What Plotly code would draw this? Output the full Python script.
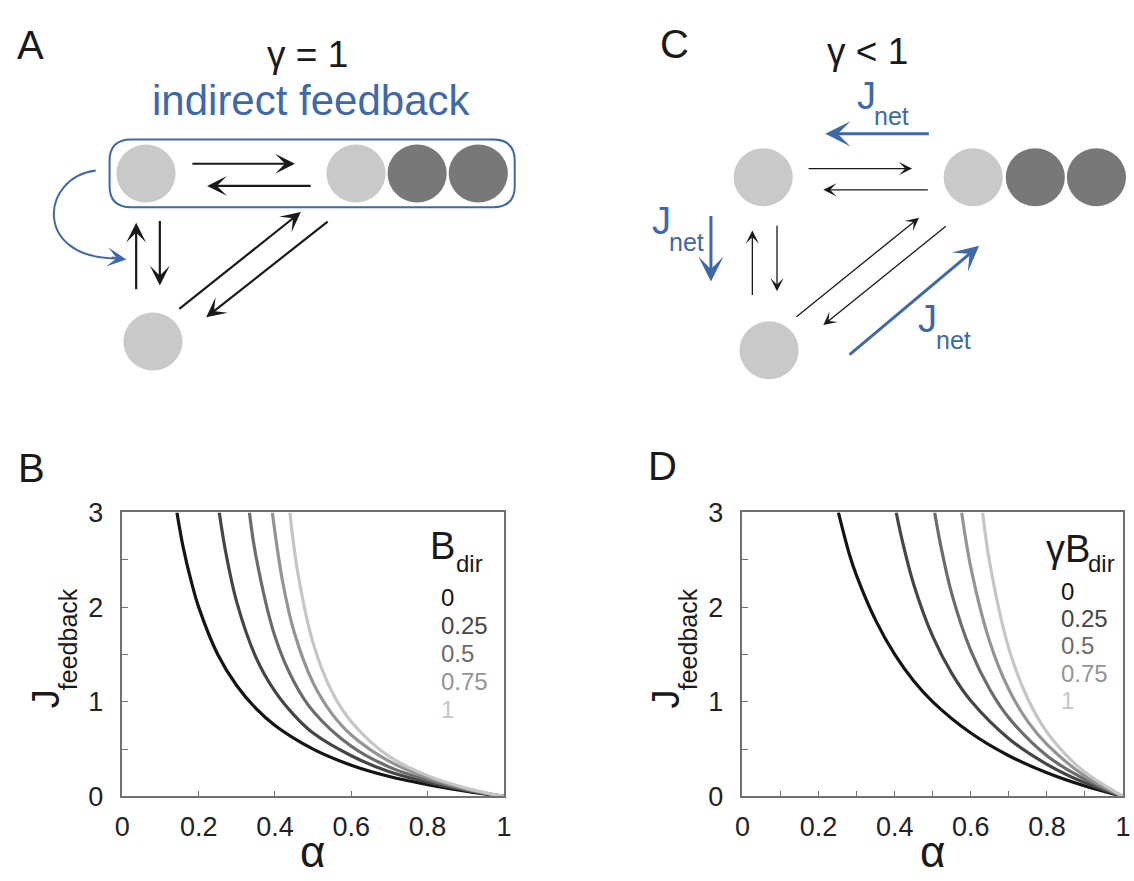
import plotly.graph_objects as go

W, H = 1134, 881

# ---------------- data: panel B (B_dir levels) ----------------
levels = ["0", "0.25", "0.5", "0.75", "1"]
line_colors = ["#141414", "#454545", "#6c6c6c", "#949494", "#c6c6c6"]

B_alpha_0 = [0.143, 0.16, 0.18, 0.20, 0.25, 0.30, 0.35, 0.40, 0.50, 0.60, 0.70, 0.80, 0.90, 1.00]
B_J_0 = [3.0, 2.62, 2.28, 2.0, 1.5, 1.17, 0.93, 0.75, 0.5, 0.33, 0.21, 0.125, 0.056, 0.0]
B_alpha_1 = [0.254, 0.27, 0.30, 0.35, 0.40, 0.45, 0.50, 0.60, 0.70, 0.80, 0.90, 1.00]
B_J_1 = [3.0, 2.6, 2.05, 1.47, 1.11, 0.86, 0.67, 0.43, 0.26, 0.15, 0.065, 0.0]
B_alpha_2 = [0.333, 0.35, 0.40, 0.45, 0.50, 0.60, 0.70, 0.80, 0.90, 1.00]
B_J_2 = [3.0, 2.54, 1.69, 1.21, 0.9, 0.53, 0.31, 0.173, 0.074, 0.0]
B_alpha_3 = [0.393, 0.42, 0.45, 0.50, 0.55, 0.60, 0.70, 0.80, 0.90, 1.00]
B_J_3 = [3.0, 2.27, 1.74, 1.2, 0.87, 0.65, 0.37, 0.197, 0.082, 0.0]
B_alpha_4 = [0.439, 0.46, 0.50, 0.55, 0.60, 0.70, 0.80, 0.90, 1.00]
B_J_4 = [3.0, 2.36, 1.62, 1.1, 0.79, 0.42, 0.22, 0.09, 0.0]

# ---------------- data: panel D (gamma*B_dir levels) ----------------
D_alpha_0 = [0.252, 0.28, 0.30, 0.35, 0.40, 0.45, 0.50, 0.60, 0.70, 0.80, 0.90, 1.00]
D_J_0 = [3.0, 2.57, 2.33, 1.86, 1.5, 1.22, 1.0, 0.67, 0.43, 0.25, 0.11, 0.0]
D_alpha_1 = [0.404, 0.42, 0.45, 0.50, 0.55, 0.60, 0.70, 0.80, 0.90, 1.00]
D_J_1 = [3.0, 2.7, 2.24, 1.69, 1.3, 1.01, 0.61, 0.34, 0.144, 0.0]
D_alpha_2 = [0.505, 0.52, 0.55, 0.60, 0.65, 0.70, 0.80, 0.90, 1.00]
D_J_2 = [3.0, 2.67, 2.14, 1.54, 1.13, 0.83, 0.43, 0.18, 0.0]
D_alpha_3 = [0.576, 0.60, 0.65, 0.70, 0.75, 0.80, 0.90, 1.00]
D_J_3 = [3.0, 2.42, 1.63, 1.13, 0.79, 0.55, 0.215, 0.0]
D_alpha_4 = [0.631, 0.65, 0.70, 0.75, 0.80, 0.85, 0.90, 1.00]
D_J_4 = [3.0, 2.46, 1.56, 1.03, 0.68, 0.44, 0.255, 0.0]

x_tick_vals_B = [0, 0.2, 0.4, 0.6, 0.8, 1.0]
x_tick_text_B = ["0", "0.2", "0.4", "0.6", "0.8", "1"]
x_tick_vals_D = [0, 0.1, 0.2, 0.3, 0.4, 0.5, 0.6, 0.7, 0.8, 0.9, 1.0]
x_tick_text_D = ["0", "", "0.2", "", "0.4", "", "0.6", "", "0.8", "", "1"]
y_tick_vals = [0, 0.5, 1, 1.5, 2, 2.5, 3]
y_tick_text = ["0", "", "1", "", "2", "", "3"]

B_series = [(B_alpha_0, B_J_0), (B_alpha_1, B_J_1), (B_alpha_2, B_J_2), (B_alpha_3, B_J_3), (B_alpha_4, B_J_4)]
D_series = [(D_alpha_0, D_J_0), (D_alpha_1, D_J_1), (D_alpha_2, D_J_2), (D_alpha_3, D_J_3), (D_alpha_4, D_J_4)]

FONT = "Liberation Sans, Arial, Helvetica, sans-serif"
BLUE = "#3f68a8"
LIGHT = "#c9c9c9"
DARK = "#787878"


def X(px):
    return px / W


def Y(py):
    return 1 - py / H


fig = go.Figure()
for (a, j), c in zip(B_series, line_colors):
    fig.add_trace(go.Scatter(x=a, y=j, mode="lines", xaxis="x", yaxis="y",
                             line=dict(color=c, width=3.2, shape="spline", smoothing=1.0),
                             showlegend=False, hoverinfo="skip"))
for (a, j), c in zip(D_series, line_colors):
    fig.add_trace(go.Scatter(x=a, y=j, mode="lines", xaxis="x2", yaxis="y2",
                             line=dict(color=c, width=3.2, shape="spline", smoothing=1.0),
                             showlegend=False, hoverinfo="skip"))

axis_common = dict(showline=True, linecolor="#707070", linewidth=1.6, mirror=True,
                   ticks="inside", ticklen=6, tickwidth=1.3, tickcolor="#707070",
                   showgrid=False, zeroline=False, fixedrange=True,
                   tickfont=dict(family=FONT, size=27, color="#222222"))

yB0, yB1 = Y(809), Y(515)
fig.update_layout(
    width=W, height=H, margin=dict(l=0, r=0, t=0, b=0),
    paper_bgcolor="white", plot_bgcolor="rgba(0,0,0,0)",
    xaxis=dict(domain=[X(116), X(503)], range=[0, 1], tickvals=x_tick_vals_B,
               ticktext=x_tick_text_B, anchor="y", ticklabelstandoff=5, **axis_common),
    yaxis=dict(domain=[yB0, yB1], range=[0, 3], tickvals=y_tick_vals,
               ticktext=y_tick_text, anchor="x", ticklabelstandoff=12, **axis_common),
    xaxis2=dict(domain=[X(745), X(1131)], range=[0, 1], tickvals=x_tick_vals_D,
                ticktext=x_tick_text_D, anchor="y2", ticklabelstandoff=5, **axis_common),
    yaxis2=dict(domain=[yB0, yB1], range=[0, 3], tickvals=y_tick_vals,
                ticktext=y_tick_text, anchor="x2", ticklabelstandoff=12, **axis_common),
)

ann = []


def text(t, x, y, size, color="#1a1a1a", angle=0, xanchor="center"):
    ann.append(dict(text=t, x=X(x), y=Y(y), xref="paper", yref="paper",
                    showarrow=False, xanchor=xanchor, yanchor="middle",
                    textangle=angle, font=dict(family=FONT, size=size, color=color)))


def arrow(tail, tip, color, width, size, head=3):
    ann.append(dict(text="", x=X(tip[0]), y=Y(tip[1]), xref="paper", yref="paper",
                    ax=tail[0] - tip[0], ay=tail[1] - tip[1], axref="pixel", ayref="pixel",
                    showarrow=True, arrowhead=head, arrowsize=size, arrowwidth=width,
                    arrowcolor=color, standoff=0, startstandoff=0))


# panel letters
text("A", 23, 31, 40)
text("C", 676, 30, 40)
text("B", 24, 469, 40)
text("D", 664, 467, 40)

# titles
text("γ = 1", 304, 41, 37)
text("indirect feedback", 308, 88, 42, BLUE)
text("γ < 1", 872, 38, 37)

# axis labels
for ox in (0, 629):
    text("J", 38 + ox, 708, 38, angle=-90)
    text("feedback", 61 + ox, 646, 25, angle=-90)
text("α", 309, 866, 44)
text("α", 938, 866, 44)

# legend B
text("B", 426, 550, 38, xanchor="left")
text("dir", 452, 568, 24, xanchor="left")
legend_y_B = [603, 632, 661, 690, 719]
for lab, yy, c in zip(levels, legend_y_B, line_colors):
    text(lab, 437, yy, 24, c, xanchor="left")

# legend D
text("γB", 1051, 553, 38, xanchor="left")
text("dir", 1093, 568, 24, xanchor="left")
legend_y_D = [597, 625, 653, 682, 710]
for lab, yy, c in zip(levels, legend_y_D, line_colors):
    text(lab, 1066, yy, 24, c, xanchor="left")

# ---------------- diagram A ----------------
shapes = []


def circle(cx, cy, r, color):
    shapes.append(dict(type="circle", xref="paper", yref="paper",
                       x0=X(cx - r), x1=X(cx + r), y0=Y(cy + r), y1=Y(cy - r),
                       fillcolor=color, line=dict(width=0), layer="above"))


def P(x, y):
    return f"{X(x):.5f},{Y(y):.5f}"


# rounded rectangle
x0, y0, x1, y1, r = 103, 129, 514, 199, 22
rr = (f"M {P(x0 + r, y0)} L {P(x1 - r, y0)} Q {P(x1, y0)} {P(x1, y0 + r)} "
      f"L {P(x1, y1 - r)} Q {P(x1, y1)} {P(x1 - r, y1)} L {P(x0 + r, y1)} "
      f"Q {P(x0, y1)} {P(x0, y1 - r)} L {P(x0, y0 + r)} Q {P(x0, y0)} {P(x0 + r, y0)} Z")
shapes.append(dict(type="path", path=rr, xref="paper", yref="paper",
                   line=dict(color=BLUE, width=2), fillcolor="rgba(0,0,0,0)"))

circle(140, 164, 30, LIGHT)
circle(353, 164, 30, LIGHT)
circle(415, 164, 30, DARK)
circle(477, 164, 30, DARK)
circle(147, 338, 30, LIGHT)

# blue curved feedback arrow
curve = f"M {P(89, 161)} C {P(33, 168)} {P(25, 252)} {P(110, 252)}"
shapes.append(dict(type="path", path=curve, xref="paper", yref="paper",
                   line=dict(color=BLUE, width=2), fillcolor="rgba(0,0,0,0)"))
arrow((104, 251), (120, 253), BLUE, 2, 1.6)

for tail, tip in [((187, 154), (291, 154)), ((307, 177), (202, 177)),
                  ((130, 283), (130, 215)), ((154, 214), (154, 280)),
                  ((174, 302), (297, 204)), ((324, 216), (201, 313))]:
    arrow(tail, tip, "#1a1a1a", 2.2, 1.5)

# ---------------- diagram C ----------------
circle(766, 168, 30, LIGHT)
circle(979, 168, 30, LIGHT)
circle(1042, 168, 30, DARK)
circle(1104, 168, 30, DARK)
circle(772, 347, 30, LIGHT)

for tail, tip in [((812, 159), (917, 159)), ((933, 181), (827, 181)),
                  ((755, 289), (755, 223)), ((780, 219), (780, 286)),
                  ((800, 310), (924, 210)), ((951, 221), (827, 321))]:
    arrow(tail, tip, "#1a1a1a", 1.3, 1.7)

for tail, tip in [((934, 123), (829, 123)), ((713, 209), (713, 276)),
                  ((854, 349), (985, 239))]:
    arrow(tail, tip, BLUE, 3, 1.4)

text("J", 871, 84, 38, BLUE)
text("net", 896, 105, 25, BLUE)
text("J", 663, 213, 38, BLUE)
text("net", 688, 235, 25, BLUE)
text("J", 933, 315, 38, BLUE)
text("net", 959, 336, 25, BLUE)

fig.update_layout(annotations=ann, shapes=shapes)
fig.write_html("out.html")
